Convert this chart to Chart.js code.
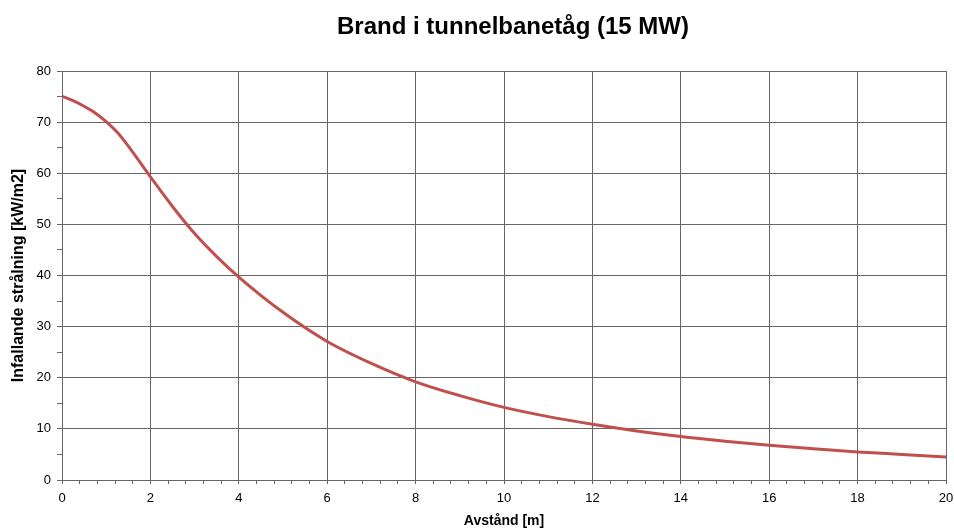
<!DOCTYPE html>
<html>
<head>
<meta charset="utf-8">
<script src="https://cdn.jsdelivr.net/npm/chart.js@4"></script>
<style>
    html, body { margin: 0; padding: 0; background: #fff; }
    #wrap { width: 954px; height: 531px; }
</style>
</head>
<body>
<div id="wrap"><canvas id="chart" width="954" height="531"></canvas></div>
<script>
// Avstånd [m] och infallande strålning [kW/m2]
const distance = [0, 0.25, 0.5, 0.75, 1, 1.25, 1.5, 2, 2.5, 3, 3.5, 4, 5, 6, 7, 8, 9, 10, 11, 12, 13, 14, 15, 16, 17, 18, 19, 20];
const radiation = [75.1, 74.2, 73.1, 71.8, 70.1, 68.0, 65.3, 59.3, 53.5, 48.2, 43.7, 39.7, 32.8, 27.1, 22.8, 19.2, 16.5, 14.2, 12.4, 10.9, 9.6, 8.5, 7.6, 6.8, 6.1, 5.5, 5.0, 4.5];

const xRange = [0, 20];
const yRange = [0, 80];
const xLabelStep = 2;   // numbered ticks
const xMinorStep = 0.4; // small tick marks
const yLabelStep = 10;
const yMinorStep = 5;

const chartTitle = 'Brand i tunnelbanetåg (15 MW)';

const FONT = "'Liberation Sans', Arial, sans-serif";
const GRID = '#666666';

const isMultiple = (v, step) => Math.abs(v / step - Math.round(v / step)) < 1e-6;

const points = distance.map((d, i) => ({ x: d, y: radiation[i] }));

// The title in the original sits a bit right of the centre, so draw it by hand
const titlePlugin = {
    id: 'offsetTitle',
    afterDraw(chart) {
        const ctx = chart.ctx;
        const area = chart.chartArea;
        ctx.save();
        ctx.font = `bold 24px ${FONT}`;
        ctx.fillStyle = '#000';
        ctx.textAlign = 'center';
        ctx.textBaseline = 'middle';
        ctx.fillText(chartTitle, (area.left + area.right) / 2 + 9, 27);
        ctx.restore();
    }
};

new Chart(document.getElementById('chart').getContext('2d'), {
    type: 'line',
    data: {
        datasets: [{
            data: points,
            borderColor: '#c0504d',
            borderWidth: 3,
            pointRadius: 0,
            cubicInterpolationMode: 'monotone',
            fill: false
        }]
    },
    options: {
        responsive: false,
        animation: false,
        layout: { padding: { left: 0, right: 0, top: 71, bottom: 0 } },
        plugins: {
            legend: { display: false },
            tooltip: { enabled: false },
            title: { display: false }
        },
        scales: {
            x: {
                type: 'linear',
                min: xRange[0],
                max: xRange[1],
                afterFit: (scale) => {
                    scale.height = 51;
                    scale.paddingRight = 8;
                },
                border: { color: GRID, width: 1 },
                grid: {
                    color: (ctx) => isMultiple(ctx.tick.value, xLabelStep) ? GRID : 'rgba(0,0,0,0)',
                    tickColor: GRID,
                    tickLength: 4
                },
                ticks: {
                    stepSize: xMinorStep,
                    autoSkip: false,
                    maxRotation: 0,
                    padding: 7,
                    color: '#000',
                    font: { family: FONT, size: 13 },
                    callback: (v) => isMultiple(v, xLabelStep) ? Math.round(v).toString() : ''
                },
                title: {
                    display: true,
                    text: 'Avstånd [m]',
                    color: '#000',
                    font: { family: FONT, size: 14, weight: 'bold' },
                    padding: { top: 0, bottom: 1 }
                }
            },
            y: {
                min: yRange[0],
                max: yRange[1],
                afterFit: (scale) => { scale.width = 62; },
                border: { color: GRID, width: 1 },
                grid: {
                    color: (ctx) => isMultiple(ctx.tick.value, yLabelStep) ? GRID : 'rgba(0,0,0,0)',
                    tickColor: GRID,
                    tickLength: 5
                },
                ticks: {
                    stepSize: yMinorStep,
                    autoSkip: false,
                    padding: 6,
                    color: '#000',
                    font: { family: FONT, size: 13 },
                    callback: (v) => isMultiple(v, yLabelStep) ? v.toString() : ''
                },
                title: {
                    display: true,
                    text: 'Infallande strålning [kW/m2]',
                    color: '#000',
                    font: { family: FONT, size: 16, weight: 'bold' },
                    padding: { top: 9, bottom: 0 }
                }
            }
        }
    },
    plugins: [titlePlugin]
});
</script>
</body>
</html>
